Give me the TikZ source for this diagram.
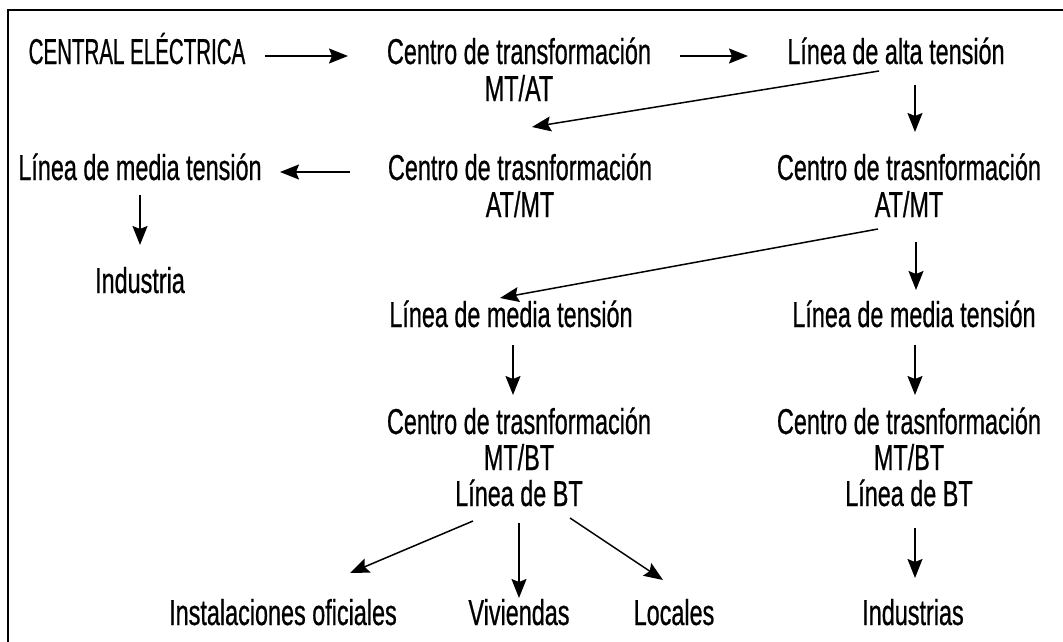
\documentclass[tikz,border=0pt]{standalone}
\usepackage{fontspec}
\setmainfont[FakeStretch=0.65,FakeBold=0.6]{Liberation Sans}
\newfontfamily\capsfont[FakeStretch=0.57,FakeBold=0.6]{Liberation Sans}
\usetikzlibrary{arrows.meta,calc}
\begin{document}
\begin{tikzpicture}[x=1pt,y=-1pt,
  lbl/.style={inner sep=0pt, anchor=base, font=\fontsize{36}{40}\selectfont, text=black},
  arr/.style={line width=1.5pt, -{Stealth[length=19pt,width=15pt,inset=3pt]}}]
\useasboundingbox (0,0) rectangle (1063,642);
\fill[white] (0,0) rectangle (1063,642);
\draw[line width=2.5pt] (8,642) -- (8,10) -- (1063,10);
% nodes
\node[lbl] (ce) at (137,64) {\capsfont CENTRAL ELÉCTRICA};
\node[lbl] (ct1a) at (519,64) {Centro de transformación};
\node[lbl] (ct1b) at (519,101) {MT/AT};
\node[lbl] (lat) at (896,64) {Línea de alta tensión};
\node[lbl] (ct2a) at (520,180) {Centro de trasnformación};
\node[lbl] (ct2b) at (520,217) {AT/MT};
\node[lbl] (lmt1) at (140,180) {Línea de media tensión};
\node[lbl] (ind) at (140,293) {Industria};
\node[lbl] (ct3a) at (909,180) {Centro de trasnformación};
\node[lbl] (ct3b) at (909,217) {AT/MT};
\node[lbl] (lmt2) at (511,327) {Línea de media tensión};
\node[lbl] (lmt3) at (914,327) {Línea de media tensión};
\node[lbl] (ct4a) at (519,434) {Centro de trasnformación};
\node[lbl] (ct4b) at (519,470) {MT/BT};
\node[lbl] (ct4c) at (519,506) {Línea de BT};
\node[lbl] (ct5a) at (909,434) {Centro de trasnformación};
\node[lbl] (ct5b) at (909,470) {MT/BT};
\node[lbl] (ct5c) at (909,506) {Línea de BT};
\node[lbl] (io) at (283,625) {Instalaciones oficiales};
\node[lbl] (viv) at (519,625) {Viviendas};
\node[lbl] (loc) at (674,625) {Locales};
\node[lbl] (inds) at (913,625) {Industrias};
% connectors
\draw[arr] ($(ce.base)+(128,-8)$) -- ($(ct1a.base)+(-171,-8)$);
\draw[arr] ($(ct1a.base)+(161,-8)$) -- ($(lat.base)+(-148,-8)$);
\draw[arr] ($(lat.base)+(-17,7)$) -- ($(ct2a.base)+(12,-53)$);
\draw[arr] ($(ct2a.base)+(-170,-8)$) -- ($(lmt1.base)+(140,-8)$);
\draw[arr] ($(lmt1.base)+(0,15)$) -- ($(ind.base)+(0,-48)$);
\draw[arr] ($(lat.base)+(19,21)$) -- ($(ct3a.base)+(6,-48)$);
\draw[arr] ($(ct3b.base)+(-31,12)$) -- ($(lmt2.base)+(-11,-29)$);
\draw[arr] ($(ct3b.base)+(7,25)$) -- ($(lmt3.base)+(2,-37)$);
\draw[arr] ($(lmt2.base)+(2,18)$) -- ($(ct4a.base)+(-6,-39)$);
\draw[arr] ($(lmt3.base)+(1,18)$) -- ($(ct5a.base)+(6,-39)$);
\draw[arr] ($(ct4c.base)+(-46,15)$) -- ($(io.base)+(67,-52)$);
\draw[arr] ($(ct4c.base)+(0,17)$) -- ($(viv.base)+(0,-27)$);
\draw[arr] ($(ct4c.base)+(51,12)$) -- ($(loc.base)+(-11,-45)$);
\draw[arr] ($(ct5c.base)+(6,22)$) -- ($(inds.base)+(2,-47)$);
\end{tikzpicture}
\end{document}
